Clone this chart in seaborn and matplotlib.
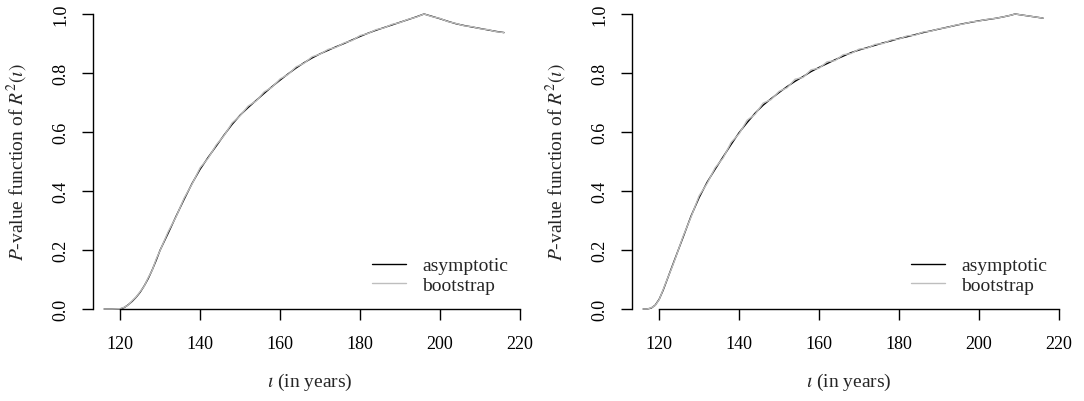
import numpy as np
import pandas as pd
import matplotlib
matplotlib.use("Agg")
import matplotlib.pyplot as plt
import seaborn as sns

# ---------------- data ----------------
t_left = [116, 118, 120, 121, 122, 123, 124, 125, 126, 127, 128, 129, 130, 132, 134, 136,
          138, 140, 142, 144, 146, 148, 150, 152, 154, 156, 158, 160, 162, 164, 166, 168,
          170, 172, 174, 176, 178, 180, 182, 184, 186, 188, 190, 192, 194, 196, 198, 200,
          202, 204, 206, 208, 210, 212, 214, 216]
asym_left = [0.0, 0.0, 0.0, 0.005, 0.014, 0.026, 0.040, 0.057, 0.078, 0.103, 0.132, 0.165,
             0.200, 0.257, 0.315, 0.372, 0.426, 0.474, 0.514, 0.552, 0.590, 0.626, 0.657,
             0.683, 0.707, 0.731, 0.754, 0.776, 0.797, 0.817, 0.835, 0.851, 0.865, 0.877,
             0.889, 0.900, 0.912, 0.924, 0.935, 0.945, 0.954, 0.963, 0.972, 0.981, 0.990,
             1.000, 0.992, 0.984, 0.975, 0.967, 0.961, 0.956, 0.951, 0.946, 0.941, 0.937]
boot_left = [0.0, 0.0, 0.001, 0.006, 0.013, 0.028, 0.041, 0.059, 0.077, 0.106, 0.131, 0.169,
             0.199, 0.262, 0.313, 0.376, 0.424, 0.479, 0.511, 0.556, 0.588, 0.631, 0.655,
             0.688, 0.705, 0.736, 0.752, 0.780, 0.795, 0.821, 0.833, 0.855, 0.864, 0.880,
             0.887, 0.902, 0.910, 0.927, 0.934, 0.947, 0.953, 0.965, 0.971, 0.982, 0.989,
             1.000, 0.991, 0.985, 0.974, 0.968, 0.960, 0.957, 0.950, 0.947, 0.940, 0.937]

t_right = [116, 117, 118, 119, 120, 121, 122, 123, 124, 126, 128, 130, 132, 134, 136, 138,
           140, 142, 144, 146, 148, 150, 152, 154, 156, 158, 160, 162, 164, 166, 168, 170,
           172, 174, 176, 178, 180, 182, 184, 186, 188, 190, 192, 194, 196, 198, 200, 202,
           204, 206, 208, 209, 210, 212, 214, 216]
asym_right = [0.0, 0.0, 0.003, 0.013, 0.033, 0.064, 0.100, 0.136, 0.172, 0.244, 0.316,
              0.378, 0.430, 0.474, 0.516, 0.558, 0.598, 0.632, 0.664, 0.691, 0.713, 0.734,
              0.754, 0.772, 0.788, 0.805, 0.819, 0.832, 0.845, 0.857, 0.869, 0.878, 0.886,
              0.894, 0.902, 0.909, 0.917, 0.923, 0.930, 0.937, 0.943, 0.949, 0.955, 0.961,
              0.967, 0.972, 0.977, 0.981, 0.985, 0.990, 0.996, 1.000, 0.998, 0.994, 0.990,
              0.986]
boot_right = [0.0, 0.0, 0.004, 0.012, 0.032, 0.066, 0.101, 0.134, 0.170, 0.247, 0.313,
              0.384, 0.426, 0.479, 0.512, 0.565, 0.594, 0.640, 0.660, 0.698, 0.710, 0.738,
              0.750, 0.779, 0.785, 0.811, 0.816, 0.838, 0.842, 0.862, 0.866, 0.881, 0.884,
              0.897, 0.900, 0.912, 0.915, 0.926, 0.928, 0.939, 0.942, 0.950, 0.954, 0.962,
              0.966, 0.973, 0.976, 0.982, 0.985, 0.990, 0.996, 1.000, 0.998, 0.994, 0.990,
              0.986]

x_ticks = [120, 140, 160, 180, 200, 220]
y_ticks = [0.0, 0.2, 0.4, 0.6, 0.8, 1.0]
y_ticklabels = ["0.0", "0.2", "0.4", "0.6", "0.8", "1.0"]
series_names = ["asymptotic", "bootstrap"]
x_label = r"$\iota$ (in years)"
y_label = r"$P$-value function of $R^2(\iota)$"

# ---------------- style ----------------
sns.set_style("ticks")
plt.rcParams["font.family"] = ["Liberation Serif", "DejaVu Serif"]
plt.rcParams["mathtext.fontset"] = "stix"
plt.rcParams["font.size"] = 13

W, H = 1084, 402
fig = plt.figure(figsize=(W / 100, H / 100), dpi=100)

palette = {"asymptotic": "#000000", "bootstrap": "#BEBEBE"}
xlim = (113.2, 221.5)
TXT = 14
TICK = 13


def make_panel(left_px, t, asym, boot):
    ax = fig.add_axes([left_px / W, (H - 310) / H, 433 / W, 295 / H])
    df = pd.DataFrame({
        "t": list(t) + list(t),
        "p": list(asym) + list(boot),
        "method": [series_names[0]] * len(t) + [series_names[1]] * len(t),
    })
    sns.lineplot(data=df, x="t", y="p", hue="method", palette=palette,
                 hue_order=series_names, linewidth=1.0, ax=ax, legend=True,
                 estimator=None, sort=False)
    for ln in ax.lines:
        ln.set_clip_on(False)
    ax.set_xlim(*xlim)
    ax.set_ylim(0, 1)
    ax.set_xticks(x_ticks)
    ax.set_xticklabels([str(v) for v in x_ticks])
    ax.set_yticks(y_ticks)
    ax.set_yticklabels(y_ticklabels, rotation=90, va="center")
    ax.spines["top"].set_visible(False)
    ax.spines["right"].set_visible(False)
    ax.spines["bottom"].set_bounds(120, 220)
    ax.spines["left"].set_bounds(0, 1)
    for s in ("bottom", "left"):
        ax.spines[s].set_linewidth(1.0)
        ax.spines[s].set_color("black")
    ax.tick_params(axis="both", direction="out", length=8, width=1.0,
                   colors="black", labelsize=TICK)
    ax.tick_params(axis="x", pad=11)
    ax.tick_params(axis="y", pad=9)
    ax.set_xlabel(x_label, fontsize=TXT, labelpad=13)
    ax.set_ylabel(y_label, fontsize=TXT, labelpad=16)
    ax.legend(loc="lower left", bbox_to_anchor=(0.644, 0.05), frameon=False,
              borderpad=0, borderaxespad=0, title=None, handlelength=1.75,
              handletextpad=0.85, labelspacing=0.12, fontsize=TXT)
    return ax


make_panel(93, t_left, asym_left, boot_left)
make_panel(632, t_right, asym_right, boot_right)

fig.savefig("out.png", dpi=100)
